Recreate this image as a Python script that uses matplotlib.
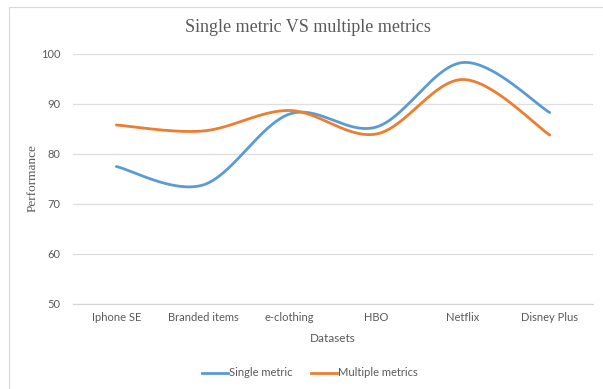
import numpy as np
import matplotlib
matplotlib.use("Agg")
import matplotlib.pyplot as plt
from matplotlib.lines import Line2D
from matplotlib.patches import Rectangle

categories = ["Iphone SE", "Branded items", "e-clothing", "HBO", "Netflix", "Disney Plus"]
single_metric = [77.5, 73.8, 88.0, 85.4, 98.3, 88.3]
multiple_metrics = [85.8, 84.6, 88.7, 84.0, 94.9, 83.8]
y_ticks = [50, 60, 70, 80, 90, 100]

BLUE = "#5B9BD5"
ORANGE = "#ED7D31"
TEXT = "#595959"
GRID = "#DEDEDE"


def smooth(xs, ys, n=60):
    """Cubic Bezier smoothing through every point (Catmull-Rom style tangents)."""
    pts = np.column_stack([xs, ys]).astype(float)
    ext = np.vstack([pts[0], pts, pts[-1]])
    out = []
    t = np.linspace(0, 1, n)[:, None]
    for i in range(len(pts) - 1):
        p0, p3 = ext[i + 1], ext[i + 2]
        c1 = p0 + (ext[i + 2] - ext[i]) / 6.0
        c2 = p3 - (ext[i + 3] - ext[i + 1]) / 6.0
        seg = ((1 - t) ** 3) * p0 + 3 * ((1 - t) ** 2) * t * c1 + 3 * (1 - t) * t ** 2 * c2 + t ** 3 * p3
        out.append(seg if i == 0 else seg[1:])
    seg = np.vstack(out)
    return seg[:, 0], seg[:, 1]


W, H = 603, 389
fig = plt.figure(figsize=(W / 100, H / 100), dpi=100)
fig.patch.set_facecolor("white")

# chart-area frame
fig.add_artist(Rectangle((9 / W, -0.1), 1.2, 1.1 - 7 / H, transform=fig.transFigure,
                         fill=False, edgecolor="#D9D9D9", linewidth=0.8))

ax = fig.add_axes([73 / W, 1 - 304 / H, 520 / W, (304 - 54) / H])
x = np.arange(len(categories))
for vals, col in [(single_metric, BLUE), (multiple_metrics, ORANGE)]:
    sx, sy = smooth(x, vals)
    ax.plot(sx, sy, color=col, linewidth=2.0, solid_capstyle="round")

ax.set_xlim(-0.5, len(categories) - 0.5)
ax.set_ylim(50, 100)
ax.set_yticks(y_ticks)
ax.set_xticks(x)
ax.set_xticklabels(categories)
ax.grid(axis="y", color=GRID, linewidth=0.9)
ax.set_axisbelow(True)
for s in ax.spines.values():
    s.set_visible(False)
ax.spines["bottom"].set_visible(True)
ax.spines["bottom"].set_color("#D4D4D4")
ax.tick_params(axis="both", length=0, colors=TEXT, labelsize=8)
ax.tick_params(axis="y", pad=9)
ax.tick_params(axis="x", pad=6)
for lbl in ax.get_xticklabels() + ax.get_yticklabels():
    lbl.set_family("Lato")

fig.text(33 / W, 1 - 178 / H, "Performance", rotation=90, ha="center", va="center",
         family="Liberation Serif", fontsize=9.5, color=TEXT)
fig.text(333 / W, 1 - 339 / H, "Datasets", ha="center", va="center",
         family="Lato", fontsize=8.5, color=TEXT)
fig.text(307.5 / W, 1 - 28 / H, "Single metric VS multiple metrics", ha="center", va="center",
         family="Liberation Serif", fontsize=13, color=TEXT)

handles = [Line2D([], [], color=BLUE, linewidth=2.0), Line2D([], [], color=ORANGE, linewidth=2.0)]
fig.legend(handles, ["Single metric", "Multiple metrics"], loc="center",
           bbox_to_anchor=(310 / W, 1 - 373 / H), ncol=2, frameon=False,
           prop={"family": "Lato", "size": 8}, handlelength=2.35, handletextpad=0.1,
           columnspacing=1.6, labelcolor=TEXT)

fig.savefig("out.png", dpi=100, facecolor="white")
